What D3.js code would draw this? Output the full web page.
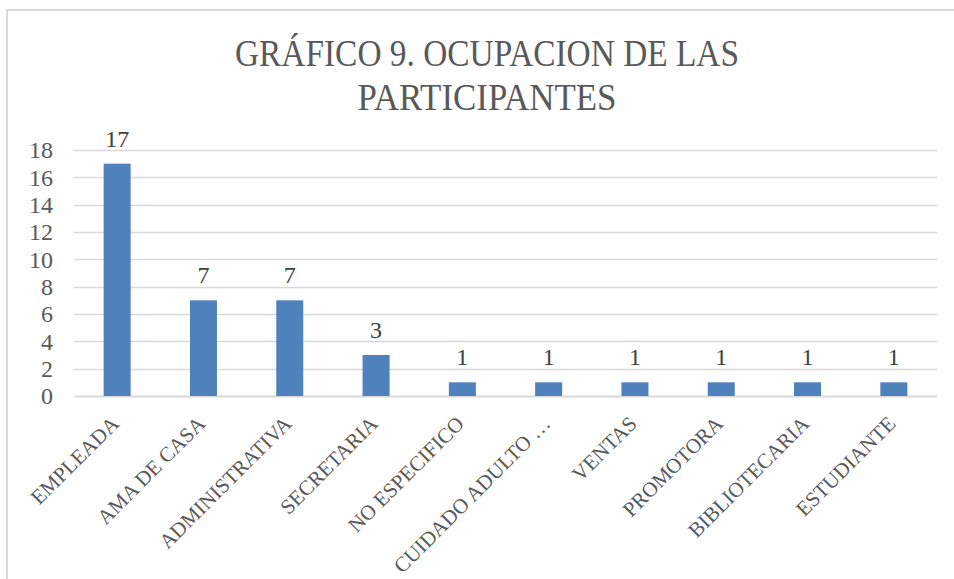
<!DOCTYPE html>
<html>
<head>
<meta charset="utf-8">
<script src="https://cdn.jsdelivr.net/npm/d3@7"></script>
<style>
  body { margin: 0; background: #fff; }
  svg text { font-family: "Liberation Serif", "DejaVu Serif", serif; }
</style>
</head>
<body>
<div id="chart"></div>
<script>
// data
var categories = ["EMPLEADA", "AMA DE CASA", "ADMINISTRATIVA", "SECRETARIA", "NO ESPECIFICO",
    "CUIDADO ADULTO …", "VENTAS", "PROMOTORA", "BIBLIOTECARIA", "ESTUDIANTE"];
var values = [17, 7, 7, 3, 1, 1, 1, 1, 1, 1];
var yTicks = [0, 2, 4, 6, 8, 10, 12, 14, 16, 18];
var titleLines = ["GRÁFICO 9. OCUPACION DE LAS", "PARTICIPANTES"];

var width = 954, height = 579;
var plot = { left: 74, right: 937, top: 150, bottom: 396 };

var svg = d3.select("#chart")
    .append("svg")
    .attr("width", width)
    .attr("height", height);

// chart frame
svg.append("rect")
    .attr("x", 7)
    .attr("y", 10)
    .attr("width", 960)
    .attr("height", 600)
    .attr("fill", "none")
    .attr("stroke", "#d9d9d9")
    .attr("stroke-width", 2);

// title
svg.selectAll(".title")
    .data(titleLines)
    .enter().append("text")
    .attr("class", "title")
    .attr("x", 487)
    .attr("y", function (d, i) { return 66 + i * 44; })
    .attr("text-anchor", "middle")
    .attr("textLength", function (d, i) { return i == 0 ? 504 : 259; })
    .attr("lengthAdjust", "spacingAndGlyphs")
    .style("font-size", "38px")
    .style("fill", "#595959")
    .text(function (d) { return d; });

var x = d3.scaleBand()
    .domain(categories)
    .range([plot.left, plot.right])
    .paddingInner(0.687)
    .paddingOuter(0.687 / 2);

var y = d3.scaleLinear()
    .domain([0, 18])
    .range([plot.bottom, plot.top]);

// gridlines
svg.append("g")
    .selectAll("line")
    .data(yTicks)
    .enter().append("line")
    .attr("x1", plot.left)
    .attr("x2", plot.right)
    .attr("y1", function (d) { return Math.round(y(d)) + 0.5; })
    .attr("y2", function (d) { return Math.round(y(d)) + 0.5; })
    .attr("stroke", "#d9d9d9")
    .attr("stroke-width", function (d) { return d == 0 ? 2 : 1.5; });

// y axis labels
var yAxis = d3.axisLeft(y).tickValues(yTicks).tickSize(0).tickPadding(21);
var gy = svg.append("g")
    .attr("transform", "translate(" + plot.left + ",0)")
    .call(yAxis);
gy.select(".domain").remove();
gy.selectAll("text")
    .style("font-size", "24px")
    .style("font-family", "Liberation Serif")
    .style("fill", "#595959");

// bars
svg.selectAll(".bar")
    .data(values)
    .enter().append("rect")
    .attr("class", "bar")
    .attr("x", function (d, i) { return x(categories[i]); })
    .attr("width", x.bandwidth())
    .attr("y", function (d) { return y(d); })
    .attr("height", function (d) { return y(0) - y(d); })
    .style("fill", "#4f81bd");

// value labels
svg.selectAll(".val")
    .data(values)
    .enter().append("text")
    .attr("class", "val")
    .attr("x", function (d, i) { return x(categories[i]) + x.bandwidth() / 2; })
    .attr("y", function (d) { return y(d) - 17; })
    .attr("text-anchor", "middle")
    .style("font-size", "24px")
    .style("fill", "#404040")
    .text(function (d) { return d; });

// category labels (rotated)
svg.selectAll(".cat")
    .data(categories)
    .enter().append("text")
    .attr("class", "cat")
    .attr("transform", function (d) {
        return "translate(" + (x(d) + x.bandwidth() / 2 + 3) + ",425)rotate(-45)";
    })
    .attr("text-anchor", "end")
    .style("font-size", "21px")
    .style("fill", "#595959")
    .text(function (d) { return d; });
</script>
</body>
</html>
